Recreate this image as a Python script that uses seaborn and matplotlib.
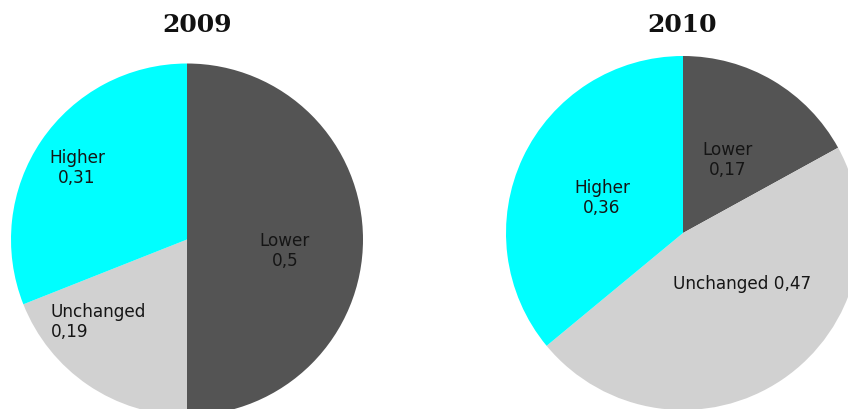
import matplotlib
matplotlib.use("Agg")
import matplotlib.pyplot as plt
import seaborn as sns

sns.set_theme(style="white")
plt.rcParams['font.family'] = ['DejaVu Sans']

categories = ["Lower", "Unchanged", "Higher"]
values_2009 = [0.5, 0.19, 0.31]
values_2010 = [0.17, 0.47, 0.36]
titles = ["2009", "2010"]
colors = ["#545454", "#d1d1d1", "#00ffff"]

W, H = 848, 410
fig = plt.figure(figsize=(W / 100, H / 100), dpi=100)
ax = fig.add_axes([0, 0, 1, 1])

def fmt(v):
    return ("%g" % v).replace(".", ",")

pies = [
    (values_2009, (187, H - 240.5), 176),
    (values_2010, (683, H - 234), 177),
]
for vals, c, r in pies:
    ax.pie(vals, colors=colors, startangle=90, counterclock=False,
           center=c, radius=r, frame=True,
           wedgeprops=dict(linewidth=0))

lab_kw = dict(fontsize=12.2, color="#151515", linespacing=1.2, family="DejaVu Sans")
# 2009 labels
ax.text(285, H - 251, f"{categories[0]}\n{fmt(values_2009[0])}", ha="center", va="center", **lab_kw)
ax.text(77, H - 168, f"{categories[2]}\n{fmt(values_2009[2])}", ha="center", va="center", **lab_kw)
ax.text(51, H - 322, f"{categories[1]}\n{fmt(values_2009[1])}", ha="left", va="center", **lab_kw)
# 2010 labels
ax.text(728, H - 160, f"{categories[0]}\n{fmt(values_2010[0])}", ha="center", va="center", **lab_kw)
ax.text(602, H - 198, f"{categories[2]}\n{fmt(values_2010[2])}", ha="center", va="center", **lab_kw)
ax.text(742, H - 284, f"{categories[1]} {fmt(values_2010[1])}", ha="center", va="center", **lab_kw)

for x, t in zip([197, 682], titles):
    ax.text(x, H - 25, t, ha="center", va="center", fontsize=18,
            fontweight="bold", family="DejaVu Serif", color="#111111")

ax.set_xlim(0, W)
ax.set_ylim(0, H)
ax.set_aspect("auto")
ax.axis("off")
fig.savefig("out.png", dpi=100)
